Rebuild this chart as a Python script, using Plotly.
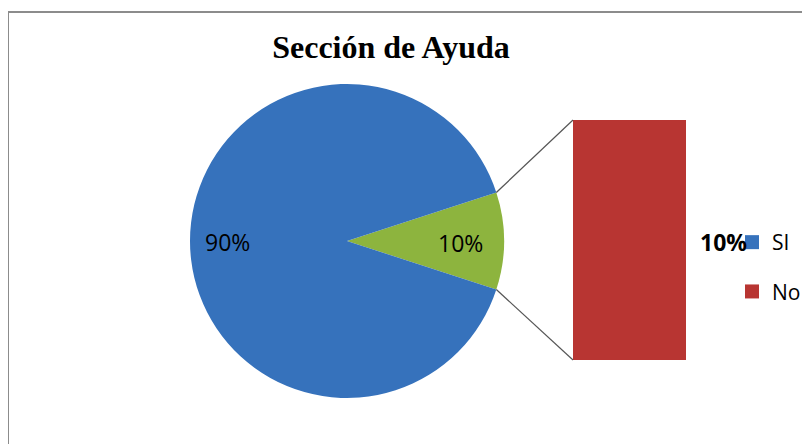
import math
import plotly.graph_objects as go

# ---- data ----
title_text = "Sección de Ayuda"
categories = ["SI", "No"]
values = [90, 10]
pie_labels = ["Otro", "SI"]          # pie of bar: the secondary group is aggregated
pie_values = [10, 90]
bar_values = [10]

BLUE = "#3672BC"
GREEN = "#8DB43E"
RED = "#B83532"

OFF = 8                  # page body margin
W, H = 810 - OFF, 444 - OFF


def px(x):
    return (x - OFF) / W


def py(y):
    return 1 - (y - OFF) / H


# pie geometry (window pixels)
cx, cy, R = 347, 241, 157
pie_dom_x = [px(cx - R), px(cx + R)]
pie_dom_y = [py(cy + R), py(cy - R)]

# bar geometry (window pixels)
bx0, bx1, by0, by1 = 573, 686, 120, 360

total = sum(pie_values)
other_frac = pie_values[0] / total
half = 180 * other_frac  # half-angle of the aggregated slice (deg)

fig = go.Figure()

fig.add_trace(go.Pie(
    labels=pie_labels,
    values=pie_values,
    sort=False,
    direction="clockwise",
    rotation=90 - half,
    marker=dict(colors=[GREEN, BLUE], line=dict(width=0)),
    textinfo="none",
    hoverinfo="label+percent",
    showlegend=False,
    domain=dict(x=pie_dom_x, y=pie_dom_y),
))

# secondary bar
fig.add_trace(go.Bar(x=[0], y=bar_values, name=categories[1], width=1,
                     marker=dict(color=RED, line=dict(width=0)),
                     showlegend=False))

# legend entries
legend_colors = [BLUE, RED]
for i, (name, col) in enumerate(zip(categories, legend_colors)):
    fig.add_trace(go.Scatter(x=[None], y=[None], mode="markers", name=name,
                             marker=dict(symbol="square", size=14, color=col),
                             legendgroup=f"g{i}", hoverinfo="skip"))

fig.update_xaxes(domain=[px(bx0), px(bx1)], range=[-0.5, 0.5], visible=False,
                 fixedrange=True)
fig.update_yaxes(domain=[py(by1), py(by0)], range=[0, bar_values[0]],
                 visible=False, fixedrange=True)

# connector lines from aggregated slice edges to bar corners
a = math.radians(half)
ex = cx + R * math.cos(a)
ey_top = cy - R * math.sin(a)
ey_bot = cy + R * math.sin(a)
shapes = [
    dict(type="line", xref="paper", yref="paper",
         x0=px(ex), y0=py(ey_top), x1=px(bx0), y1=py(by0),
         line=dict(color="#555555", width=1.2)),
    dict(type="line", xref="paper", yref="paper",
         x0=px(ex), y0=py(ey_bot), x1=px(bx0), y1=py(by1),
         line=dict(color="#555555", width=1.2)),
    dict(type="rect", xref="paper", yref="paper",
         x0=px(8), y0=py(12), x1=px(830), y1=py(460),
         line=dict(color="#8C8C8C", width=2), fillcolor="rgba(0,0,0,0)",
         layer="below"),
]

# labels
lab_font = dict(family="Open Sans", size=23, color="#000000")
annotations = [
    dict(x=px(cx - 0.76 * R), y=py(cy + 1),
         xref="paper", yref="paper", showarrow=False, xanchor="center",
         yanchor="middle",
         text=f"{round(pie_values[1] / total * 100)}%", font=lab_font),
    dict(x=px(cx + 0.72 * R), y=py(cy + 2),
         xref="paper", yref="paper", showarrow=False, xanchor="center",
         yanchor="middle",
         text=f"{round(pie_values[0] / total * 100)}%", font=lab_font),
    dict(x=px(723), y=py(242),
         xref="paper", yref="paper", showarrow=False, xanchor="center",
         yanchor="middle",
         text=f"<b>{round(bar_values[0] / total * 100)}%</b>", font=lab_font),
]

fig.update_layout(
    width=W, height=H, autosize=False,
    margin=dict(l=0, r=0, t=0, b=0),
    paper_bgcolor="white", plot_bgcolor="white",
    title=dict(text=f"<b>{title_text}</b>", x=px(391), xanchor="center",
               y=py(47), yanchor="middle",
               font=dict(family="Liberation Serif", size=32, color="#000000")),
    shapes=shapes,
    annotations=annotations,
    showlegend=True,
    barmode="overlay",
    legend=dict(x=px(732), y=py(222), xanchor="left", yanchor="top",
                traceorder="grouped", tracegroupgap=19,
                font=dict(family="Open Sans", size=21, color="#000000"),
                bgcolor="rgba(0,0,0,0)"),
    bargap=0,
)

fig.write_html("out.html")
